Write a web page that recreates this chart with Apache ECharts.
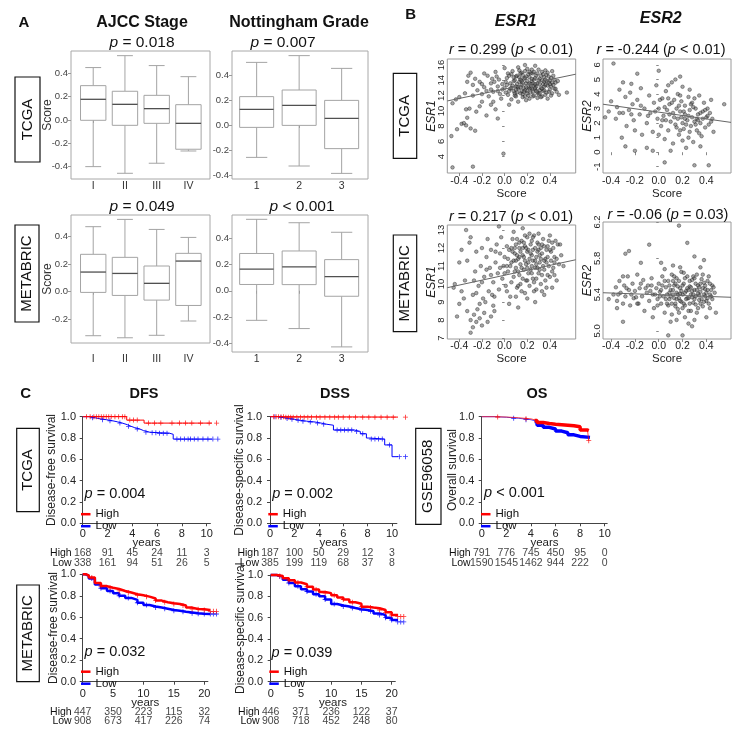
<!DOCTYPE html>
<html><head><meta charset="utf-8">
<script src="https://cdn.jsdelivr.net/npm/echarts@6/dist/echarts.min.js"></script>
<style>html,body{margin:0;padding:0;background:#fff}#c{width:742px;height:730px}</style>
</head><body><div id="c"></div>
<script>
// ================= DATA =================
// Panel A: box plot statistics [lower whisker, Q1, median, Q3, upper whisker]
const stageCats = ['I', 'II', 'III', 'IV'];
const gradeCats = ['1', '2', '3'];
const boxYTicks = [-0.4, -0.2, 0, 0.2, 0.4];
const tcgaStageBox = [[-0.40, -0.003, 0.177, 0.294, 0.449], [-0.457, -0.046, 0.134, 0.246, 0.551], [-0.371, -0.029, 0.097, 0.211, 0.466], [-0.266, -0.251, -0.029, 0.131, 0.371]];
const tcgaGradeBox = [[-0.259, -0.019, 0.125, 0.227, 0.501], [-0.328, -0.003, 0.157, 0.28, 0.555], [-0.387, -0.189, 0.053, 0.197, 0.453]];
const metaStageBox = [[-0.32, -0.005, 0.143, 0.272, 0.473], [-0.335, -0.027, 0.133, 0.25, 0.526], [-0.317, -0.061, 0.061, 0.187, 0.453], [-0.213, -0.1, 0.223, 0.279, 0.395]];
const metaGradeBox = [[-0.226, 0.048, 0.165, 0.285, 0.546], [-0.289, 0.047, 0.182, 0.304, 0.52], [-0.429, -0.042, 0.108, 0.238, 0.447]];

// Panel B: scatter points [score, expression]
const scoreTicks = [-0.4, -0.2, 0, 0.2, 0.4];
const tcgaEsr1Ticks = [4, 6, 8, 10, 12, 14, 16];
const tcgaEsr2Ticks = [-1, 0, 1, 2, 3, 4, 5, 6];
const metaEsr1Ticks = [7, 8, 9, 10, 11, 12, 13];
const metaEsr2Ticks = [5.0, 5.4, 5.8, 6.2];
const tcgaEsr1Pts = [[-0.47,6.7],[-0.46,2.6],[-0.28,2.7],[-0.01,4.4],[-0.42,7.6],[-0.38,8.3],[-0.36,8.4],[-0.34,8.1],[-0.30,7.7],[-0.26,7.4],[-0.33,9.1],[-0.31,10.3],[-0.34,10.2],[-0.25,9.9],[-0.06,9.0],[-0.46,11.0],[-0.22,10.6],[-0.16,9.4],[-0.40,11.8],[-0.43,11.5],[-0.20,11.2],[-0.12,10.8],[-0.08,10.2],[-0.28,12.0],[-0.35,12.3],[-0.32,14.6],[-0.30,15.0],[-0.26,14.2],[-0.22,13.8],[-0.28,13.4],[-0.24,12.7],[-0.20,12.2],[-0.18,13.1],[-0.15,14.6],[-0.12,13.6],[-0.10,12.5],[-0.14,11.9],[-0.06,13.2],[-0.05,14.1],[-0.03,11.6],[-0.02,12.8],[-0.08,15.1],[-0.33,13.8],[-0.18,14.9],[-0.10,11.2],[-0.09,13.8],[-0.04,12.2],[-0.07,14.5],[-0.12,12.8],
[0.00,13.0],[0.02,14.3],[0.03,12.1],[0.05,13.6],[0.06,11.5],[0.07,15.2],[0.08,12.6],[0.09,14.0],[0.10,13.2],[0.00,15.6],[0.04,10.8],[0.10,11.9],[0.01,12.4],[0.06,14.8],
[0.11,14.6],[0.12,12.9],[0.13,13.8],[0.14,12.3],[0.15,15.0],[0.15,13.4],[0.16,11.8],[0.17,14.2],[0.18,12.7],[0.19,13.6],[0.20,15.5],[0.12,11.2],[0.14,14.9],[0.18,16.0],[0.16,12.2],[0.19,11.4],[0.11,13.5],[0.13,15.3],
[0.21,13.1],[0.22,14.4],[0.23,12.4],[0.24,13.9],[0.25,11.9],[0.25,14.9],[0.26,13.3],[0.27,12.8],[0.28,14.6],[0.29,13.6],[0.30,12.2],[0.22,11.6],[0.24,15.4],[0.27,15.9],[0.21,12.0],[0.29,11.7],[0.26,14.1],[0.23,13.5],
[0.31,14.2],[0.32,13.0],[0.33,15.1],[0.34,12.6],[0.35,13.8],[0.36,12.1],[0.37,14.7],[0.38,13.3],[0.39,12.5],[0.40,14.0],[0.33,11.9],[0.36,15.3],[0.38,11.6],[0.31,12.7],[0.35,14.4],
[0.41,13.2],[0.42,12.3],[0.43,14.6],[0.44,12.9],[0.45,13.7],[0.46,12.5],[0.48,12.1],[0.55,12.4],[0.42,15.2],[0.47,13.9],
[0.02,13.4],[0.05,12.9],[0.08,13.9],[0.12,13.1],[0.14,14.1],[0.17,13.0],[0.19,14.5],[0.20,12.6],[0.22,13.6],[0.24,12.9],[0.26,15.1],[0.28,13.2],[0.30,14.0],[0.31,13.5],[0.33,12.9],[0.35,12.7],[0.37,13.9],[0.39,14.5],[0.40,12.8],[0.43,13.4],[0.10,14.5],[0.16,14.7],[0.20,13.9],[0.27,14.3],[0.34,14.8],[0.09,12.3],[0.18,11.9],[0.25,12.5],[0.32,11.8],[0.41,12.0],[0.03,14.9],[0.15,12.6],[0.23,14.9],[0.29,12.4],[0.36,13.4],
[0.01,13.8],[0.04,14.6],[0.07,13.3],[0.09,12.0],[0.11,12.4],[0.13,14.4],[0.15,13.9],[0.17,12.5],[0.19,13.1],[0.21,14.8],[0.23,13.0],[0.25,13.6],[0.27,13.5],[0.29,14.9],[0.31,12.3],[0.33,14.0],[0.35,13.2],[0.37,12.4],[0.39,13.7],[0.41,14.3],[0.44,14.1],[0.12,15.7],[0.22,15.1],[0.30,15.4],[0.38,15.0],[0.06,13.0],[0.16,13.7],[0.26,12.0],[0.34,13.5],[0.42,13.7],[0.08,14.4],[0.18,14.3],[0.28,12.6],[0.36,14.1],[0.45,12.9],[-0.02,13.5],[-0.06,12.6],[-0.11,14.2],[-0.16,12.6],[-0.20,13.5],[0.24,14.2],[0.14,13.1],[0.20,12.3],[0.32,14.6],[0.27,13.0],[0.10,12.8],[0.04,12.6],[0.18,15.2],[0.40,13.5],[0.22,12.9]];
const tcgaEsr2Pts = [[-0.38,6.1],[-0.48,-0.2],[0.55,3.3],[0.05,-0.7],[0.30,-0.9],[0.42,-0.9],[-0.18,5.4],[0.00,5.6],[0.18,5.2],[-0.23,4.7],[-0.30,4.8],[-0.10,0.3],[-0.20,0.1],[-0.05,0.1],[-0.28,0.4],[-0.31,1.0],
[-0.42,2.8],[-0.45,2.4],[-0.40,3.5],[-0.36,2.3],[-0.35,3.1],[-0.33,4.3],[-0.30,2.7],[-0.28,3.8],[-0.27,1.8],[-0.25,2.9],[-0.24,4.1],[-0.22,3.3],[-0.21,2.2],[-0.20,1.5],[-0.18,3.6],[-0.16,2.6],[-0.15,4.4],[-0.14,1.2],[-0.12,3.0],[-0.10,2.0],[-0.08,3.9],[-0.07,2.7],[-0.05,1.4],[-0.04,3.4],[-0.02,4.6],[-0.01,2.3],
[0.00,3.0],[0.02,1.8],[0.03,3.7],[0.04,2.5],[0.05,0.9],[0.06,4.2],[0.07,2.9],[0.08,1.5],[0.09,3.3],[0.10,2.1],[0.11,4.8],[0.12,2.7],[0.12,0.6],[0.13,3.6],[0.14,1.9],[0.15,3.0],[0.16,2.3],[0.16,4.0],[0.17,1.2],[0.18,2.8],[0.19,3.5],[0.20,2.0],[0.20,4.5],[0.21,1.6],[0.22,2.6],[0.22,3.2],[0.23,0.3],[0.24,2.2],[0.25,3.8],[0.25,1.0],[0.26,2.9],[0.27,1.8],[0.28,2.4],[0.28,3.4],[0.29,0.7],[0.30,2.1],[0.31,3.0],[0.32,1.5],[0.33,2.6],[0.34,3.9],[0.35,2.0],[0.36,1.1],[0.37,2.8],[0.38,3.4],[0.39,1.7],[0.40,2.4],[0.41,3.0],[0.42,1.9],[0.43,2.7],[0.45,2.3],[0.46,1.4],[0.44,3.6],[0.14,5.0],[0.08,4.6],[0.20,0.8],[0.10,0.1],[0.35,0.4],[0.00,1.2],[0.26,4.3],[0.30,3.7],[0.18,1.5],[0.06,2.2],[0.22,2.3],[0.32,2.3],
[0.05,3.1],[0.09,2.6],[0.13,2.4],[0.17,3.2],[0.21,2.8],[0.25,2.5],[0.29,3.1],[0.33,2.2],[0.37,2.3],[0.41,2.5],[0.15,1.7],[0.23,1.9],[0.31,1.9],[0.39,2.9],[0.11,3.4],[0.19,2.4],[0.27,3.3],[0.35,2.7],[0.03,2.2],[-0.03,2.8],[-0.09,2.5],[-0.15,3.2],[-0.23,2.6],[-0.33,2.7],[0.44,2.1],[0.26,1.4],[0.34,1.3],[0.18,3.9],[0.08,3.7],[0.01,3.6]];
const metaEsr1Pts = [[-0.30,7.3],[-0.28,7.6],[-0.25,7.9],[-0.22,8.1],[-0.27,8.3],[-0.20,7.7],[-0.18,8.4],[-0.15,7.9],[-0.24,8.6],[-0.30,8.0],[-0.33,8.5],[-0.12,8.2],[-0.10,8.8],[-0.36,9.2],[-0.40,8.9],[-0.42,8.2],[-0.38,9.6],
[-0.35,10.2],[-0.33,11.3],[-0.31,12.3],[-0.30,12.6],[-0.34,13.0],[-0.28,9.4],[-0.26,10.7],[-0.25,11.8],[-0.23,9.9],[-0.21,11.0],[-0.20,12.0],[-0.19,9.2],[-0.18,10.4],[-0.16,11.5],[-0.15,12.5],[-0.14,9.6],[-0.13,10.9],[-0.12,11.9],[-0.10,10.1],[-0.09,9.3],[-0.08,11.2],[-0.07,12.2],[-0.06,10.6],[-0.05,9.7],[-0.04,11.7],[-0.03,12.6],[-0.02,10.3],[-0.01,11.0],[-0.44,10.0],[-0.40,11.2],[-0.38,11.9],[-0.45,9.8],[-0.09,8.5],[-0.05,13.2],
[0.00,11.5],[0.01,9.9],[0.02,12.1],[0.03,10.7],[0.04,11.9],[0.05,9.3],[0.06,11.2],[0.07,12.5],[0.08,10.4],[0.09,11.7],[0.10,10.9],[0.10,12.2],[0.11,9.8],[0.12,11.4],[0.13,12.0],[0.13,10.5],[0.14,11.1],[0.15,12.4],[0.15,9.6],[0.16,11.6],[0.17,10.8],[0.18,12.1],[0.18,11.3],[0.19,10.2],[0.20,11.8],[0.20,12.6],[0.21,10.6],[0.22,11.4],[0.22,9.9],[0.23,12.2],[0.24,11.0],[0.25,10.3],[0.25,11.9],[0.26,12.7],[0.27,10.9],[0.28,11.5],[0.28,9.7],[0.29,12.3],[0.30,10.6],[0.31,11.2],[0.32,12.0],[0.32,10.0],[0.33,11.7],[0.34,12.5],[0.35,10.8],[0.36,11.4],[0.37,9.8],[0.38,12.1],[0.39,11.0],[0.40,10.4],[0.41,11.8],[0.42,12.3],[0.43,10.9],[0.44,11.5],[0.46,10.2],[0.47,12.2],[0.48,11.1],[0.50,11.6],[0.04,8.9],[0.12,8.7],[0.20,9.2],[0.08,12.9],[0.16,13.1],[0.30,12.8],[0.27,9.0],[0.35,9.4],[0.06,10.1],[0.14,10.0],[0.24,12.4],[0.18,9.5],[0.10,11.3],[0.30,11.9],[0.22,12.8],[0.38,10.5],[0.02,11.0],
[0.05,11.0],[0.09,12.0],[0.12,10.7],[0.14,11.8],[0.17,12.3],[0.19,11.1],[0.21,11.9],[0.23,10.8],[0.25,11.3],[0.27,12.0],[0.29,10.9],[0.31,11.6],[0.33,10.5],[0.35,12.1],[0.37,11.2],[0.40,11.9],[0.42,10.7],[0.45,12.4],[0.16,10.3],[0.26,10.1],[0.34,11.0],[0.11,12.5],[0.20,10.9],[0.28,11.1],[0.38,11.5],[0.07,11.8],[0.13,11.5],[0.24,11.6],[0.32,11.4],[0.44,11.2],
[0.00,10.6],[0.03,11.4],[0.06,12.0],[0.09,10.7],[0.11,11.6],[0.13,12.3],[0.15,10.9],[0.17,11.5],[0.19,12.0],[0.21,11.2],[0.23,11.7],[0.25,12.6],[0.27,11.3],[0.29,11.8],[0.31,10.8],[0.33,12.2],[0.35,11.3],[0.37,11.9],[0.39,12.4],[0.41,11.3],[0.43,12.0],[0.46,11.4],[0.49,12.2],[0.52,11.0],[0.08,11.3],[0.16,12.0],[0.24,10.6],[0.30,12.2],[0.36,10.2],[0.44,10.5],[0.12,9.9],[0.20,10.2],[0.28,10.3],[0.40,12.7],[0.18,12.7],[-0.04,10.9],[-0.08,11.8],[-0.12,10.5],[-0.16,10.8],[-0.20,10.1],[-0.25,9.5],[-0.27,10.2],[-0.22,8.9],[-0.17,9.0],[-0.11,9.4],[0.02,9.6],[0.10,9.3],[0.26,9.6],[0.33,9.6],[0.42,9.8]];
const metaEsr2Pts = [[0.17,6.16],[0.24,5.97],[-0.25,5.88],[-0.28,5.85],[-0.08,5.95],[0.38,5.78],[0.30,5.82],[0.08,4.95],[0.20,4.95],[-0.30,5.10],[-0.35,5.25],[0.48,5.20],[-0.42,5.35],[0.45,5.50],[0.02,5.75],[-0.15,5.75],[0.12,5.72],
[-0.38,5.40],[-0.36,5.48],[-0.35,5.33],[-0.33,5.55],[-0.32,5.42],[-0.30,5.30],[-0.29,5.50],[-0.28,5.38],[-0.26,5.60],[-0.25,5.45],[-0.24,5.28],[-0.22,5.52],[-0.21,5.36],[-0.20,5.44],[-0.18,5.62],[-0.17,5.30],[-0.16,5.47],[-0.14,5.38],[-0.13,5.56],[-0.12,5.22],[-0.10,5.42],[-0.09,5.50],[-0.08,5.33],[-0.06,5.58],[-0.05,5.40],[-0.04,5.25],[-0.02,5.47],[-0.01,5.35],
[0.00,5.52],[0.01,5.43],[0.02,5.30],[0.03,5.60],[0.04,5.38],[0.05,5.20],[0.06,5.48],[0.07,5.40],[0.08,5.55],[0.08,5.28],[0.09,5.35],[0.10,5.45],[0.11,5.62],[0.11,5.18],[0.12,5.40],[0.13,5.50],[0.14,5.30],[0.15,5.42],[0.15,5.58],[0.16,5.24],[0.17,5.36],[0.18,5.47],[0.19,5.65],[0.19,5.32],[0.20,5.40],[0.21,5.52],[0.22,5.15],[0.22,5.28],[0.23,5.44],[0.24,5.60],[0.25,5.36],[0.26,5.49],[0.27,5.22],[0.27,5.40],[0.28,5.56],[0.29,5.31],[0.30,5.45],[0.31,5.38],[0.32,5.62],[0.32,5.20],[0.33,5.50],[0.34,5.34],[0.35,5.43],[0.36,5.57],[0.37,5.27],[0.38,5.40],[0.39,5.50],[0.40,5.33],[0.41,5.45],[0.42,5.60],[0.43,5.25],[0.44,5.38],[0.46,5.48],[0.10,5.10],[0.25,5.08],[0.30,5.12],[-0.05,5.15],[0.05,5.68],[0.35,5.70],[0.28,5.05],[0.15,5.12],[0.18,5.70],[-0.30,5.60],[0.40,5.15],
[0.12,5.45],[0.14,5.52],[0.16,5.40],[0.18,5.33],[0.20,5.50],[0.22,5.42],[0.24,5.36],[0.26,5.55],[0.28,5.44],[0.30,5.35],[0.31,5.52],[0.33,5.41],[0.35,5.30],[0.37,5.47],[0.39,5.38],[0.41,5.36],[0.43,5.52],[0.13,5.36],[0.17,5.55],[0.21,5.30],[0.25,5.45],[0.29,5.40],[0.34,5.48],[0.38,5.32],[0.02,5.45],[0.06,5.35],[0.09,5.50],[-0.03,5.40],[-0.11,5.47],[-0.19,5.37],
[0.10,5.38],[0.12,5.55],[0.14,5.27],[0.16,5.49],[0.18,5.41],[0.20,5.25],[0.22,5.58],[0.24,5.47],[0.26,5.30],[0.28,5.37],[0.30,5.58],[0.32,5.45],[0.34,5.39],[0.36,5.35],[0.38,5.53],[0.40,5.42],[0.42,5.30],[0.44,5.45],[0.11,5.30],[0.15,5.35],[0.19,5.44],[0.23,5.35],[0.27,5.48],[0.31,5.29],[0.35,5.52],[0.39,5.46],[0.43,5.40],[0.05,5.55],[0.07,5.30],[0.03,5.50],[-0.01,5.28],[-0.07,5.44],[-0.15,5.52],[-0.23,5.40],[-0.27,5.47],[-0.34,5.40],[0.21,5.64],[0.29,5.60],[0.37,5.62],[0.13,5.60],[0.17,5.20],[0.25,5.22],[0.33,5.25],[0.41,5.55],[0.45,5.35],[0.47,5.42],[0.09,5.42],[0.01,5.38],[-0.06,5.50],[-0.18,5.30]];
// fitted regression lines (end points)
const tcgaEsr1Fit = [[-0.506, 11.3], [0.628, 14.8]];
const tcgaEsr2Fit = [[-0.468, 3.3], [0.607, 2.05]];
const metaEsr1Fit = [[-0.506, 9.8], [0.628, 11.35]];
const metaEsr2Fit = [[-0.468, 5.42], [0.607, 5.37]];

// Panel C: Kaplan-Meier curves [years, survival]
const tcgaTimes = [0, 2, 4, 6, 8, 10];
const metaTimes = [0, 5, 10, 15, 20];
const tcgaDfsHigh = [[0,1],[3.55,0.968],[4.95,0.94],[11.1,0.94]];
const tcgaDfsLow = [[0,1],[0.5,0.99],[1.0,0.98],[1.4,0.972],[1.9,0.962],[2.4,0.952],[2.8,0.94],[3.2,0.925],[3.6,0.91],[3.9,0.897],[4.2,0.885],[4.6,0.87],[4.9,0.855],[5.4,0.85],[6.0,0.845],[7.0,0.835],[7.3,0.79],[11.1,0.79]];
const tcgaDfsHighCens = [0.3,0.6,0.9,1.1,1.3,1.5,1.7,1.9,2.1,2.3,2.6,2.9,3.2,3.4,3.8,4.1,4.4,5.3,5.8,6.3,7.2,7.8,8.3,8.8,9.5,10.2,10.8];
const tcgaDfsLowCens = [0.8,1.6,2.2,3.0,3.7,4.4,5.1,5.6,5.9,6.2,6.5,6.8,7.6,7.9,8.2,8.5,8.7,9.0,9.3,9.7,10.1,10.5,10.9];
const tcgaDssHigh = [[0,1],[1.2,0.996],[11.2,0.996]];
const tcgaDssLow = [[0,1],[0.6,0.992],[1.1,0.984],[1.6,0.976],[2.0,0.966],[2.5,0.958],[3.0,0.95],[3.7,0.94],[4.2,0.93],[4.6,0.92],[5.2,0.875],[6.9,0.862],[7.4,0.84],[7.9,0.80],[8.1,0.79],[9.4,0.735],[10.0,0.625],[11.2,0.625]];
const tcgaDssHighCens = [0.3,0.5,0.7,0.9,1.1,1.3,1.5,1.7,1.9,2.2,2.5,2.8,3.1,3.4,3.8,4.1,4.5,4.9,5.3,5.6,6.0,6.5,7.0,7.6,8.1,8.6,9.1,9.6,10.1,11.1];
const tcgaDssLowCens = [0.4,0.9,1.4,1.8,2.3,2.7,3.3,3.9,4.4,5.5,5.8,6.1,6.4,6.7,7.1,7.6,8.3,8.6,8.9,9.2,9.8,10.6,11.1];
const osHigh = [[0,1],[1,0.997],[2,0.99],[3,0.98],[4,0.965],[4.5,0.945],[5,0.937],[5.5,0.93],[6,0.925],[6.5,0.92],[7,0.915],[7.5,0.905],[8,0.875],[8.6,0.87],[8.7,0.775]];
const osLow = [[0,1],[1,0.995],[2,0.985],[3,0.972],[4,0.955],[4.5,0.92],[5,0.9],[5.5,0.885],[6,0.865],[6.5,0.85],[7,0.83],[7.5,0.815],[8,0.806],[8.8,0.806]];
const osHighCens = [1.3, 3.6, 8.7];
const osLowCens = [2.6, 3.6];
const metaDfsHigh = [[0,1],[0.5,0.99],[1,0.97],[2,0.92],[3,0.89],[4,0.875],[5,0.863],[6,0.845],[7,0.83],[8,0.815],[9,0.805],[10,0.792],[11,0.775],[12,0.755],[13,0.74],[14,0.73],[15,0.724],[16,0.71],[17,0.69],[18,0.677],[19,0.675],[20,0.668],[21,0.655],[22,0.655]];
const metaDfsLow = [[0,1],[0.5,0.985],[1,0.96],[2,0.905],[3,0.87],[4,0.845],[5,0.823],[6,0.8],[7,0.78],[8,0.762],[9,0.735],[10,0.714],[11,0.7],[12,0.69],[13,0.68],[14,0.668],[15,0.661],[16,0.652],[17,0.645],[18,0.637],[19,0.632],[20,0.63],[22,0.63]];
const metaDssHigh = [[0,1],[1,0.99],[2,0.97],[3,0.95],[4,0.93],[5,0.913],[6,0.89],[7,0.865],[8,0.84],[9,0.83],[10,0.81],[11,0.79],[12,0.77],[13,0.745],[14,0.73],[15,0.703],[16,0.695],[17,0.688],[18,0.672],[19,0.65],[20,0.625],[21,0.61],[22.3,0.594]];
const metaDssLow = [[0,1],[1,0.985],[2,0.955],[3,0.925],[4,0.895],[5,0.866],[6,0.845],[7,0.82],[8,0.8],[9,0.77],[10,0.728],[11,0.715],[12,0.705],[13,0.69],[14,0.68],[15,0.672],[16,0.66],[17,0.64],[18,0.625],[19,0.6],[20,0.578],[21,0.56],[22.3,0.531]];
const metaCens = [1.5,3,4.5,6,7.5,9,10.5,12,13.5,15,16.5,18,19,20,21,21.5,22];
// numbers at risk
const tcgaDfsRiskHigh = [168, 91, 45, 24, 11, 3];
const tcgaDfsRiskLow = [338, 161, 94, 51, 26, 5];
const tcgaDssRiskHigh = [187, 100, 50, 29, 12, 3];
const tcgaDssRiskLow = [385, 199, 119, 68, 37, 8];
const osRiskHigh = [791, 776, 745, 450, 95, 0];
const osRiskLow = [1590, 1545, 1462, 944, 222, 0];
const metaDfsRiskHigh = [447, 350, 223, 115, 32];
const metaDfsRiskLow = [908, 673, 417, 226, 74];
const metaDssRiskHigh = [446, 371, 236, 122, 37];
const metaDssRiskLow = [908, 718, 452, 248, 80];

// ================= BUILD =================
const FONT = '"Liberation Sans", Arial, Helvetica, sans-serif';
const RED = '#ff0000', BLUE = '#0000ff';
const PLUS = 'path://M-0.5,-3H0.5V-0.5H3V0.5H0.5V3H-0.5V0.5H-3V-0.5H-0.5Z';
const grids = [], xAxes = [], yAxes = [], series = [], legends = [], graphics = [];

function addGrid(g, xa, ya) {
  g.outerBoundsMode = 'none'; g.containLabel = false;
  xa.nameMoveOverlap = false; ya.nameMoveOverlap = false;
  grids.push(g); const gi = grids.length - 1;
  xa.gridIndex = gi; ya.gridIndex = gi; xAxes.push(xa); yAxes.push(ya);
  return gi;
}

function renderBox(params, api) {
  const x = api.value(0), lo = api.value(1), q1 = api.value(2), md = api.value(3), q3 = api.value(4), hi = api.value(5);
  const P = (a, b) => api.coord([a, b]);
  const G = '#a4a4a4';
  const ln = (p1, p2, c, w) => ({ type: 'line', shape: { x1: p1[0], y1: p1[1], x2: p2[0], y2: p2[1] }, style: { stroke: c, lineWidth: w } });
  const tl = P(x - 0.4, q3), br = P(x + 0.4, q1);
  return { type: 'group', children: [
    ln(P(x, hi), P(x, q3), G, 1), ln(P(x, lo), P(x, q1), G, 1),
    ln(P(x - 0.25, hi), P(x + 0.25, hi), G, 1), ln(P(x - 0.25, lo), P(x + 0.25, lo), G, 1),
    { type: 'rect', shape: { x: tl[0], y: tl[1], width: br[0] - tl[0], height: br[1] - tl[1] }, style: { fill: '#fff', stroke: G, lineWidth: 1 } },
    ln(P(x - 0.4, md), P(x + 0.4, md), '#505050', 1.3)
  ] };
}

function boxPanel(pos, xr, yr, cats, stats, xMargin, yName) {
  const tv = cats.map((c, k) => k + 1);
  const i = addGrid({ left: pos[0], top: pos[1], width: pos[2], height: pos[3], show: true, borderColor: '#a8a8a8', borderWidth: 1 },
    { type: 'value', min: xr[0], max: xr[1], axisLine: { show: false }, splitLine: { show: false },
      axisTick: { show: true, customValues: tv, length: 3, lineStyle: { color: '#999' } },
      axisLabel: { customValues: tv, formatter: v => cats[Math.round(v) - 1] || '', margin: xMargin, fontSize: 10.5, color: '#333', fontFamily: FONT } },
    { type: 'value', min: yr[0], max: yr[1], axisLine: { show: false }, splitLine: { show: false },
      axisTick: { show: true, customValues: boxYTicks, length: 3, lineStyle: { color: '#999' } },
      axisLabel: { customValues: boxYTicks, formatter: v => v.toFixed(1), margin: 3, fontSize: 9.5, color: '#444', fontFamily: FONT },
      name: yName, nameLocation: 'middle', nameGap: 17, nameTextStyle: { fontSize: 12, color: '#333', fontFamily: FONT } });
  series.push({ type: 'custom', xAxisIndex: i, yAxisIndex: i, renderItem: renderBox, silent: true,
    data: stats.map((s, k) => [k + 1].concat(s)), encode: { x: 0, y: [1, 2, 3, 4, 5] } });
}

function scatterPanel(pos, xr, yr, yTicks, yDigits, yName, pts, fit, xMargin, xNameGap) {
  const i = addGrid({ left: pos[0], top: pos[1], width: pos[2], height: pos[3], show: true, borderColor: '#9a9a9a', borderWidth: 1 },
    { type: 'value', min: xr[0], max: xr[1], axisLine: { show: false }, splitLine: { show: false },
      axisTick: { show: true, customValues: scoreTicks, length: 3, lineStyle: { color: '#888' } },
      axisLabel: { customValues: scoreTicks, formatter: v => v.toFixed(1), margin: xMargin, fontSize: 10.5, color: '#222', fontFamily: FONT },
      name: 'Score', nameLocation: 'middle', nameGap: xNameGap, nameTextStyle: { fontSize: 11.5, color: '#222', fontFamily: FONT } },
    { type: 'value', min: yr[0], max: yr[1], axisLine: { show: false }, splitLine: { show: false },
      axisTick: { show: true, customValues: yTicks, length: 2.5, lineStyle: { color: '#888' } },
      axisLabel: { customValues: yTicks, formatter: v => v.toFixed(yDigits), rotate: 90, margin: 1, fontSize: 9.5, color: '#222', fontFamily: FONT },
      name: yName, nameLocation: 'middle', nameGap: 9.5, nameTextStyle: { fontSize: 12, fontStyle: 'italic', color: '#222', fontFamily: FONT } });
  series.push({ type: 'scatter', xAxisIndex: i, yAxisIndex: i, data: pts, symbolSize: 3.6, silent: true,
    itemStyle: { color: 'rgba(85,85,85,0.65)', borderColor: 'rgba(20,20,20,0.8)', borderWidth: 0.6 } });
  series.push({ type: 'line', xAxisIndex: i, yAxisIndex: i, data: fit, symbol: 'none', silent: true,
    lineStyle: { color: '#666', width: 1 } });
}

function survAt(curve, t) { let v = curve[0][1]; for (const p of curve) { if (p[0] <= t) v = p[1]; } return v; }

function survPanel(pos, xMax, xTicks, yOff, xOff, yName, yGap, curves) {
  const i = addGrid({ left: pos[0], top: pos[1], width: pos[2], height: pos[3] },
    { type: 'value', min: 0, max: xMax, offset: xOff, splitLine: { show: false },
      axisLine: { show: true, lineStyle: { color: '#444' } },
      axisTick: { show: true, customValues: xTicks, length: 3, lineStyle: { color: '#444' } },
      axisLabel: { customValues: xTicks, margin: 3, fontSize: 11, color: '#222', fontFamily: FONT },
      name: 'years', nameLocation: 'middle', nameGap: 11, nameTextStyle: { fontSize: 11.5, color: '#222', fontFamily: FONT } },
    { type: 'value', min: 0, max: 1, interval: 0.2, offset: yOff, splitLine: { show: false },
      axisLine: { show: true, lineStyle: { color: '#444' } },
      axisTick: { show: true, length: 3, lineStyle: { color: '#444' } },
      axisLabel: { formatter: v => v.toFixed(1), margin: 3, fontSize: 11, color: '#222', fontFamily: FONT },
      name: yName, nameLocation: 'middle', nameGap: yGap, nameTextStyle: { fontSize: 12, color: '#222', fontFamily: FONT } });
  curves.forEach(c => {
    series.push({ type: 'line', name: c.name, xAxisIndex: i, yAxisIndex: i, data: c.data, step: 'end', symbol: 'none', clip: false, silent: true,
      itemStyle: { color: c.color }, lineStyle: { color: c.color, width: c.width, opacity: c.opacity || 1 }, z: c.z || 2 });
    if (c.thickFrom !== undefined) {
      const last = c.data[c.data.length - 1];
      const seg = [[c.thickFrom, survAt(c.data, c.thickFrom)]].concat(c.data.filter(p => p[0] > c.thickFrom && p[0] < last[0]));
      seg.push([last[0], seg[seg.length - 1][1]]);
      series.push({ type: 'line', xAxisIndex: i, yAxisIndex: i, data: seg, step: 'end', symbol: 'none', clip: false, silent: true,
        lineStyle: { color: c.color, width: 3.5 }, z: c.z || 2 });
    }
    if (c.cens && c.cens.length) {
      series.push({ type: 'scatter', xAxisIndex: i, yAxisIndex: i, data: c.cens.map(t => [t, survAt(c.data, t)]), symbol: PLUS, symbolSize: 5,
        clip: false, silent: true, itemStyle: { color: c.color }, z: c.z || 2 });
    }
  });
  return i;
}

function riskTable(pos, xMax, times, high, low) {
  const i = addGrid({ left: pos[0], top: pos[1], width: pos[2], height: pos[3] },
    { type: 'value', min: 0, max: xMax, show: false },
    { type: 'category', data: ['Low', 'High'], axisLine: { show: false }, axisTick: { show: false }, splitLine: { show: false },
      axisLabel: { interval: 0, hideOverlap: false, margin: 11, fontSize: 10.5, color: '#111', fontFamily: FONT } });
  const lab = { show: true, position: 'inside', formatter: p => String(p.value[2]), fontSize: 10.5, color: '#111', fontFamily: FONT };
  series.push({ type: 'scatter', xAxisIndex: i, yAxisIndex: i, symbolSize: 1, silent: true, itemStyle: { color: 'rgba(0,0,0,0)' }, label: lab,
    data: times.map((t, k) => [t, 'High', high[k]]).concat(times.map((t, k) => [t, 'Low', low[k]])) });
}

function addLegend(left, top) {
  legends.push({ left, top, orient: 'vertical', padding: 0, itemGap: 0, itemWidth: 9.5, itemHeight: 2.5, icon: 'rect',
    selectedMode: false, data: ['High', 'Low'], textStyle: { fontSize: 11.5, lineHeight: 9, color: '#111', fontFamily: FONT } });
}

function gText(text, x, y, size, bold, italic) {
  return { type: 'text', x, y, silent: true, style: { text, align: 'center', verticalAlign: 'middle', fontSize: size, fontFamily: FONT,
    fontWeight: bold ? 'bold' : 'normal', fontStyle: italic ? 'italic' : 'normal', fill: '#111',
    rich: { i: { fontStyle: 'italic', fontSize: size, fontFamily: FONT, fill: '#111' } } } };
}
function gBox(label, x0, y0, x1, y1) {
  graphics.push({ type: 'rect', silent: true, shape: { x: x0, y: y0, width: x1 - x0, height: y1 - y0 }, style: { fill: '#fff', stroke: '#111', lineWidth: 1.2 } });
  graphics.push({ type: 'text', silent: true, x: (x0 + x1) / 2, y: (y0 + y1) / 2, rotation: Math.PI / 2,
    style: { text: label, align: 'center', verticalAlign: 'middle', fontSize: 15, fontFamily: FONT, fill: '#111' } });
}

// ---- Panel A ----
boxPanel([71, 51, 139, 128], [0.3, 4.68], [-0.506, 0.591], stageCats, tcgaStageBox, 2, 'Score');
boxPanel([232, 51, 136, 128], [0.42, 3.62], [-0.432, 0.592], gradeCats, tcgaGradeBox, 2, '');
boxPanel([71, 215, 139, 128], [0.3, 4.68], [-0.373, 0.558], stageCats, metaStageBox, 11, 'Score');
boxPanel([232, 215, 136, 137], [0.42, 3.62], [-0.468, 0.579], gradeCats, metaGradeBox, 2, '');

// ---- Panel B ----
scatterPanel([447.3, 59, 128.4, 114], [-0.506, 0.628], [1.87, 16.79], tcgaEsr1Ticks, 0, 'ESR1', tcgaEsr1Pts, tcgaEsr1Fit, 3, 14.5);
scatterPanel([603, 59, 128, 114], [-0.468, 0.607], [-1.43, 6.41], tcgaEsr2Ticks, 0, 'ESR2', tcgaEsr2Pts, tcgaEsr2Fit, 3, 14.5);
scatterPanel([447.3, 225, 128.4, 114], [-0.506, 0.628], [6.95, 13.28], metaEsr1Ticks, 0, 'ESR1', metaEsr1Pts, metaEsr1Fit, 2, 13.5);
scatterPanel([603, 222, 128, 117], [-0.468, 0.607], [4.91, 6.2], metaEsr2Ticks, 1, 'ESR2', metaEsr2Pts, metaEsr2Fit, 2, 13.5);

// ---- Panel C ----
survPanel([82.7, 416.7, 127.7, 106.6], 10.3, tcgaTimes, 3.7, 2.4, 'Disease-free survival', 21, [
  { name: 'Low', data: tcgaDfsLow, color: BLUE, width: 1, cens: tcgaDfsLowCens },
  { name: 'High', data: tcgaDfsHigh, color: RED, width: 1, cens: tcgaDfsHighCens, z: 3 }]);
survPanel([270, 416.7, 126.9, 106.6], 10.4, tcgaTimes, 5, 2.4, 'Disease-specific survival', 19, [
  { name: 'Low', data: tcgaDssLow, color: BLUE, width: 1, cens: tcgaDssLowCens },
  { name: 'High', data: tcgaDssHigh, color: RED, width: 1, cens: tcgaDssHighCens, z: 3 }]);
survPanel([481.7, 416.7, 125.5, 106.6], 10.2, tcgaTimes, 4.4, 2.4, 'Overall survival', 19, [
  { name: 'Low', data: osLow, color: BLUE, width: 1, cens: osLowCens, thickFrom: 4.3, opacity: 0.7 },
  { name: 'High', data: osHigh, color: RED, width: 1, cens: osHighCens, thickFrom: 4.3, opacity: 0.7, z: 3 }]);
survPanel([82.7, 574.3, 125.2, 107.4], 20.6, metaTimes, 3.7, 4, 'Disease-free survival', 19, [
  { name: 'Low', data: metaDfsLow, color: BLUE, width: 2.5, cens: metaCens },
  { name: 'High', data: metaDfsHigh, color: RED, width: 2.5, cens: metaCens, z: 3 }]);
survPanel([270.7, 575, 124.6, 106.7], 20.6, metaTimes, 4.7, 4, 'Disease-specific survival', 19, [
  { name: 'Low', data: metaDssLow, color: BLUE, width: 2.5, cens: metaCens },
  { name: 'High', data: metaDssHigh, color: RED, width: 2.5, cens: metaCens, z: 3 }]);

riskTable([82.7, 548.2, 127.7, 19.4], 10.3, tcgaTimes, tcgaDfsRiskHigh, tcgaDfsRiskLow);
riskTable([270, 548.2, 126.9, 19.4], 10.4, tcgaTimes, tcgaDssRiskHigh, tcgaDssRiskLow);
riskTable([481.7, 548.2, 125.5, 19.4], 10.2, tcgaTimes, osRiskHigh, osRiskLow);
riskTable([82.7, 708, 125.2, 17.4], 20.6, metaTimes, metaDfsRiskHigh, metaDfsRiskLow);
riskTable([270.7, 708, 124.6, 17.4], 20.6, metaTimes, metaDssRiskHigh, metaDssRiskLow);

addLegend(81, 508.2); addLegend(268.3, 508.2); addLegend(481, 508.2);
addLegend(81, 665.7); addLegend(269.3, 665.7);

// ---- text & label boxes ----
graphics.push(gText('A', 24, 23, 15, true));
graphics.push(gText('AJCC Stage', 142, 22.7, 16, true));
graphics.push(gText('Nottingham Grade', 299, 22.7, 16, true));
graphics.push(gText('{i|p} = 0.018', 142, 43, 15.5));
graphics.push(gText('{i|p} = 0.007', 283, 43, 15.5));
graphics.push(gText('{i|p} = 0.049', 142, 206.7, 15.5));
graphics.push(gText('{i|p} < 0.001', 302, 206.7, 15.5));
graphics.push(gText('B', 410.7, 15, 15, true));
graphics.push(gText('ESR1', 515.7, 21.7, 16, true, true));
graphics.push(gText('ESR2', 660.7, 19, 16, true, true));
graphics.push(gText('{i|r} = 0.299 ({i|p} < 0.01)', 511, 50, 14.5));
graphics.push(gText('{i|r} = -0.244 ({i|p} < 0.01)', 661, 50, 14.5));
graphics.push(gText('{i|r} = 0.217 ({i|p} < 0.01)', 511, 216.7, 14.5));
graphics.push(gText('{i|r} = -0.06 ({i|p} = 0.03)', 668, 215, 14.5));
graphics.push(gText('C', 25.7, 394, 15, true));
graphics.push(gText('DFS', 144, 394, 14.5, true));
graphics.push(gText('DSS', 335, 394, 14.5, true));
graphics.push(gText('OS', 537, 394, 14.5, true));
graphics.push(gText('{i|p} = 0.004', 115, 494.3, 14.5));
graphics.push(gText('{i|p} = 0.002', 302.7, 494, 14.5));
graphics.push(gText('{i|p} < 0.001', 514.5, 493.3, 14.5));
graphics.push(gText('{i|p} = 0.032', 115, 651.7, 14.5));
graphics.push(gText('{i|p} = 0.039', 302, 652.7, 14.5));
gBox('TCGA', 15, 77, 40, 162);
gBox('METABRIC', 15, 225, 39, 322);
gBox('TCGA', 393.3, 73.3, 416.7, 158.3);
gBox('METABRIC', 393.3, 235, 416.7, 331.7);
gBox('TCGA', 16.7, 428.3, 39.3, 511.7);
gBox('GSE96058', 415.7, 428.3, 441, 524.3);
gBox('METABRIC', 16.7, 585, 39.3, 681.7);

const chart = echarts.init(document.getElementById('c'), null, { renderer: 'canvas' });
chart.setOption({
  backgroundColor: '#fff', animation: false,
  textStyle: { fontFamily: FONT },
  grid: grids, xAxis: xAxes, yAxis: yAxes, series, legend: legends,
  graphic: { elements: graphics }
});
</script></body></html>
